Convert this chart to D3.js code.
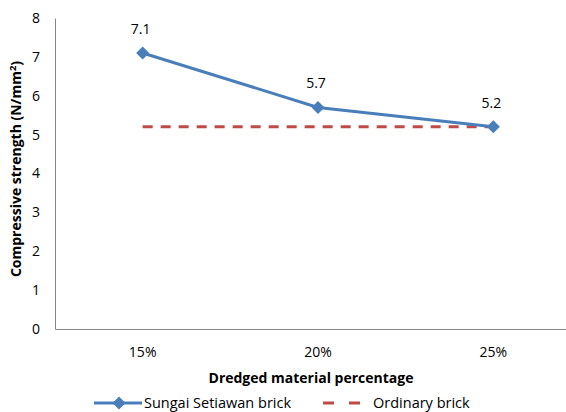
<!DOCTYPE html>
<html>
<head>
<meta charset="utf-8">
<script src="https://cdn.jsdelivr.net/npm/d3@7"></script>
<style>
  body { margin: 0; background: #fff; }
  text { font-family: "Open Sans", "Noto Sans", sans-serif; fill: #000; }
</style>
</head>
<body>
<div id="vis"></div>
<script>
const frame_width = 566;
const frame_height = 412;
const margins = {left: 55, right: -15, top: 18, bottom: 83};

// chart data
const categories = ["15%", "20%", "25%"];
const sungai_values = [7.1, 5.7, 5.2];
const ordinary_values = [5.2, 5.2, 5.2];
const y_ticks = [0, 1, 2, 3, 4, 5, 6, 7, 8];

const blue = "#4a7ebb";
const red = "#be4b48";
const axis_color = "#868686";

const FRAME =
d3.select("#vis")
    .append("svg")
        .attr("width", frame_width)
        .attr("height", frame_height);

const X_SCALE = d3.scaleBand()
    .domain(categories)
    .range([margins.left, frame_width - margins.right]);

const Y_SCALE = d3.scaleLinear()
    .domain([0, 8])
    .range([frame_height - margins.bottom, margins.top]);

const xc = (d) => X_SCALE(d) + X_SCALE.bandwidth() / 2;

// y axis
const yAxis = FRAME.append("g")
    .attr("transform", "translate(" + margins.left + ",0)")
    .call(d3.axisLeft(Y_SCALE).tickValues(y_ticks).tickSize(0).tickPadding(15));
yAxis.select(".domain").attr("stroke", axis_color);
yAxis.selectAll("text").attr("font-size", "14px");

// x axis
const xAxis = FRAME.append("g")
    .attr("transform", "translate(0," + Y_SCALE(0) + ")")
    .call(d3.axisBottom(X_SCALE).tickSize(0).tickPadding(18));
xAxis.select(".domain").attr("stroke", axis_color);
xAxis.selectAll("text").attr("font-size", "14px");

// axis titles
FRAME.append("text")
    .attr("x", 311)
    .attr("y", 383)
    .attr("text-anchor", "middle")
    .attr("font-size", "14px")
    .attr("font-weight", "bold")
    .text("Dredged material percentage");

const yTitle = FRAME.append("text")
    .attr("transform", "translate(21,169) rotate(-90)")
    .attr("text-anchor", "middle")
    .attr("font-size", "14px")
    .attr("font-weight", "bold");
yTitle.append("tspan").text("Compressive strength (N/mm");
yTitle.append("tspan").attr("dy", -5).attr("font-size", "9.5px").text("2");
yTitle.append("tspan").attr("dy", 5).text(")");

// ordinary brick dashed line
const line = d3.line()
    .x((d, i) => xc(categories[i]))
    .y((d) => Y_SCALE(d));

FRAME.append("path")
    .datum(ordinary_values)
    .attr("d", line)
    .attr("fill", "none")
    .attr("stroke", red)
    .attr("stroke-width", 3)
    .attr("stroke-dasharray", "10,8");

// sungai setiawan line
FRAME.append("path")
    .datum(sungai_values)
    .attr("d", line)
    .attr("fill", "none")
    .attr("stroke", blue)
    .attr("stroke-width", 3);

const diamond = d3.symbol().type(d3.symbolSquare).size(85);

FRAME.selectAll(".pt")
    .data(sungai_values)
    .enter()
    .append("path")
        .attr("class", "pt")
        .attr("d", diamond)
        .attr("transform", (d, i) => "translate(" + xc(categories[i]) + "," + Y_SCALE(d) + ") rotate(45)")
        .attr("fill", blue);

// data labels
FRAME.selectAll(".lbl")
    .data(sungai_values)
    .enter()
    .append("text")
        .attr("class", "lbl")
        .attr("x", (d, i) => xc(categories[i]) - 2)
        .attr("y", (d) => Y_SCALE(d) - 19)
        .attr("text-anchor", "middle")
        .attr("font-size", "14px")
        .text((d) => d.toFixed(1));

// legend
const ly = 403;
FRAME.append("line")
    .attr("x1", 94).attr("x2", 142).attr("y1", ly).attr("y2", ly)
    .attr("stroke", blue).attr("stroke-width", 3);
FRAME.append("path")
    .attr("d", diamond)
    .attr("transform", "translate(119," + ly + ") rotate(45)")
    .attr("fill", blue);
FRAME.append("text")
    .attr("x", 144).attr("y", ly + 5)
    .attr("font-size", "14.5px")
    .text("Sungai Setiawan brick");

FRAME.append("line")
    .attr("x1", 323).attr("x2", 360).attr("y1", ly).attr("y2", ly)
    .attr("stroke", red).attr("stroke-width", 3)
    .attr("stroke-dasharray", "11,15");
FRAME.append("text")
    .attr("x", 373).attr("y", ly + 5)
    .attr("font-size", "14.5px")
    .text("Ordinary brick");
</script>
</body>
</html>
